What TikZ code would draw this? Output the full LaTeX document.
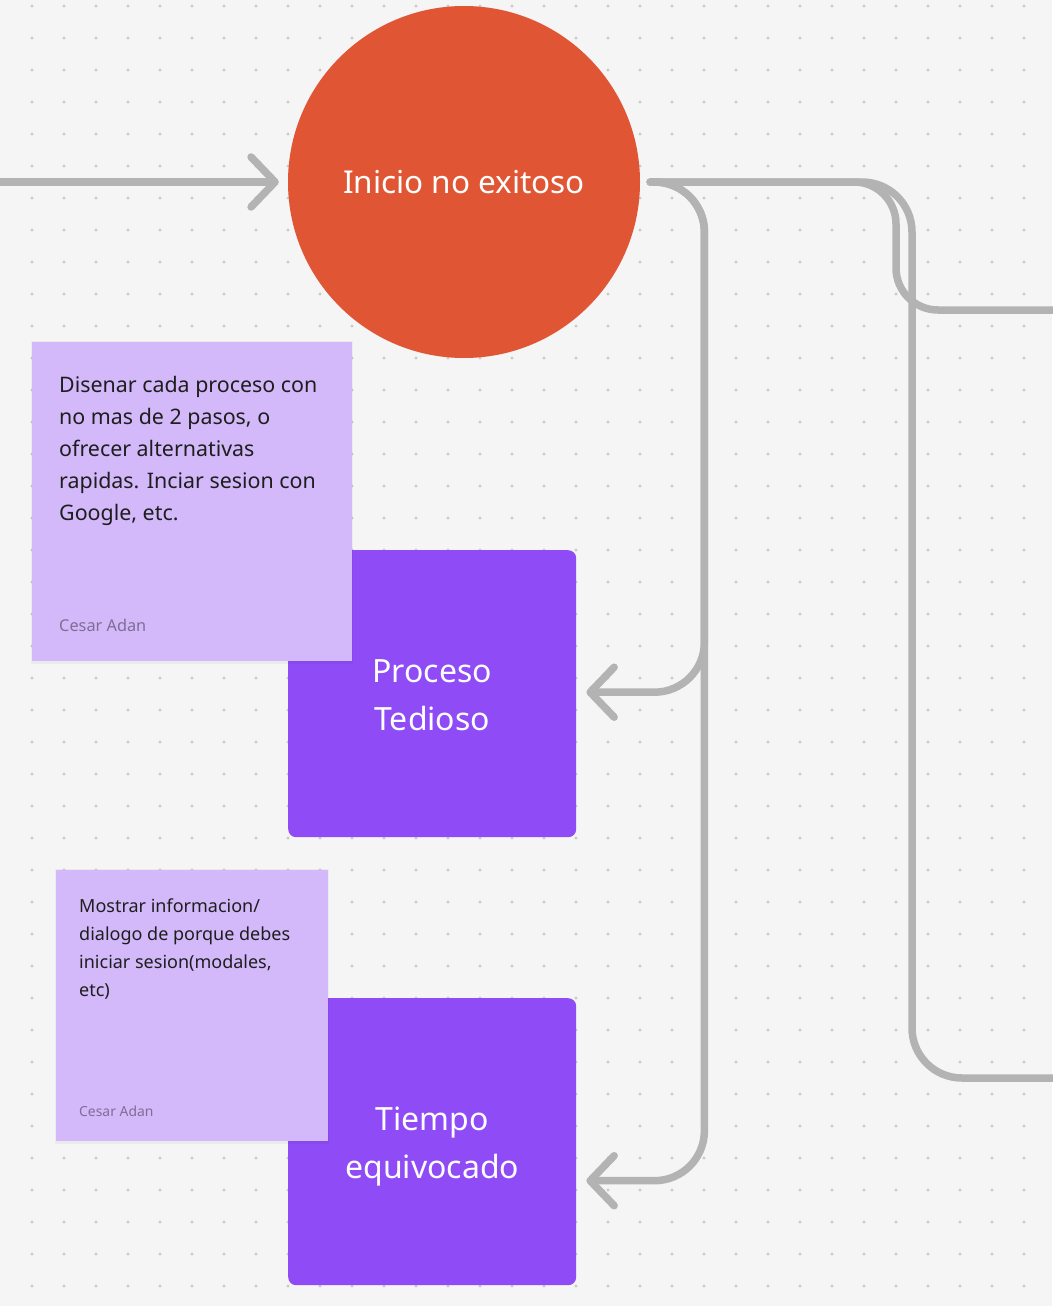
\documentclass[tikz,border=0pt]{standalone}
\usepackage{fontspec}
\setmainfont{Noto Sans}
\usetikzlibrary{arrows.meta}
\definecolor{bgc}{HTML}{F5F5F5}
\definecolor{dotc}{HTML}{C9C9C9}
\definecolor{orangec}{HTML}{E05533}
\definecolor{purplec}{HTML}{8F4BF5}
\definecolor{stickyc}{HTML}{D4B9FA}
\definecolor{linec}{HTML}{B3B3B3}
\definecolor{inkc}{HTML}{1E1E1E}
\definecolor{authc}{HTML}{7E6E94}
\tikzset{
  conn/.style={draw=linec, line width=7.5pt, line cap=round, line join=round},
  tipped/.style={-{Straight Barb[length=24pt, width=50pt, round]}},
  bigbox/.style={rectangle, rounded corners=8pt, fill=purplec, minimum width=288pt, minimum height=287pt, anchor=north west, inner sep=0pt},
  boxtext/.style={text=white, align=center, font=\fontsize{32}{48}\selectfont},
  sticky/.style={rectangle, fill=stickyc, anchor=north west, inner sep=0pt},
  shadowbox/.style={rectangle, fill=black, opacity=0.04, anchor=north west, inner sep=0pt},
  notetext/.style={anchor=north west, inner sep=0pt, align=left, text=inkc},
  author/.style={anchor=base west, inner sep=0pt, text=authc}
}
\begin{document}
\begin{tikzpicture}[x=1pt,y=-1pt]
\fill[bgc] (0,0) rectangle (1052,1306);
\useasboundingbox (0,0) rectangle (1052,1306);
\foreach \i in {1,...,32} {
  \foreach \j in {0,...,40} {
    \fill[dotc] (32*\i, 6+32*\j) circle (1.6);
  }
}
% main circle
\node[circle, fill=orangec, minimum size=352pt, inner sep=0pt, text=white, font=\fontsize{31.5}{36}\selectfont] (start) at (464,182) {Inicio no exitoso};
% purple boxes
\node[bigbox] (p1) at (288,550) {};
\node[boxtext] (p1t) at ([yshift=-2pt]p1.center) {Proceso\hspace{8pt}\\Tedioso};
\node[bigbox] (p2) at (288,998) {};
\node[boxtext] (p2t) at ([yshift=-4.5pt]p2.center) {Tiempo\hspace{6pt}\\equivocado};
% sticky notes
\node[shadowbox, minimum width=322pt, minimum height=323pt] (s1s) at (31,341) {};
\node[sticky, minimum width=320pt, minimum height=319pt] (s1) at (32,342) {};
\node[notetext, font=\fontsize{21.4}{32}\selectfont] (s1t) at (59,376) {Disenar cada proceso con\\no mas de 2 pasos, o\\ofrecer alternativas\\rapidas. Inciar sesion con\\Google, etc.};
\node[author, font=\fontsize{16.3}{18}\selectfont] (s1a) at (59,631) {Cesar Adan};
\node[shadowbox, minimum width=274pt, minimum height=275pt] (s2s) at (55,869) {};
\node[sticky, minimum width=272pt, minimum height=271pt] (s2) at (56,870) {};
\node[notetext, font=\fontsize{18}{28}\selectfont] (s2t) at (79,898.5) {Mostrar informacion/\\dialogo de porque debes\\iniciar sesion(modales,\\etc)};
\node[author, font=\fontsize{13.9}{16}\selectfont] (s2a) at (79,1116) {Cesar Adan};
% connectors
\coordinate (in) at (-10,182);
\coordinate (o1) at (1070,310);
\coordinate (o2) at (1070,1078);
\draw[conn, tipped] (in) -- ([xshift=-9pt]start.west);
\draw[conn, rounded corners=42pt] ([xshift=10pt]start.east) -- (896,182) -- (896,310) -- (o1);
\draw[conn, rounded corners=50pt] ([xshift=10pt]start.east) -- (912,182) -- (912,1078) -- (o2);
\draw[conn, tipped, rounded corners=50pt] ([xshift=10pt]start.east) -| ([xshift=128pt,yshift=-39pt]p2.east) -- ([xshift=10pt,yshift=-39pt]p2.east);
\draw[conn, tipped, rounded corners=50pt] ([xshift=10pt]start.east) -| ([xshift=128pt,yshift=1.5pt]p1.east) -- ([xshift=10pt,yshift=1.5pt]p1.east);
\end{tikzpicture}
\end{document}
